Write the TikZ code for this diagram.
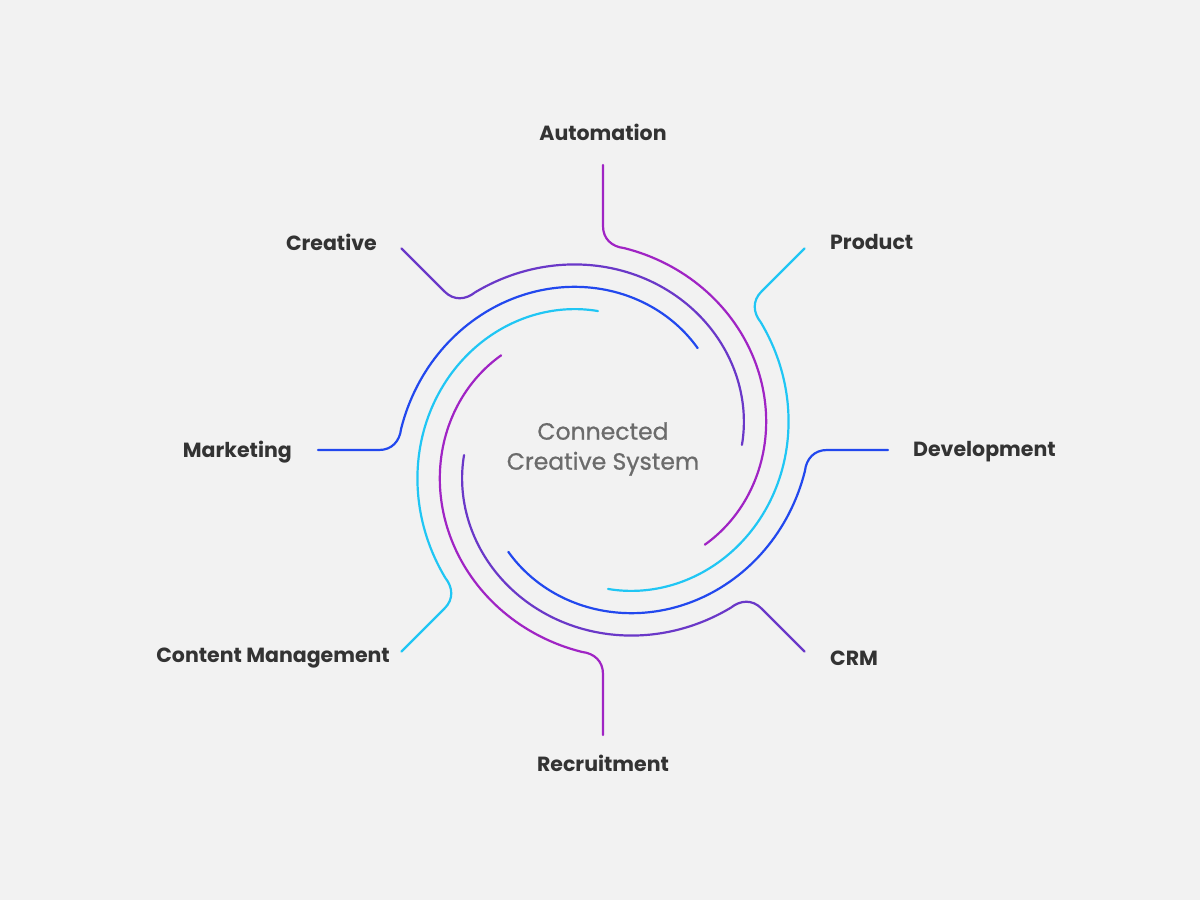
\documentclass[tikz,border=0pt]{standalone}
\usepackage{fontspec}
\setmainfont{Poppins}
\newfontfamily\ctrfont[FakeBold=0.8]{Poppins}
\definecolor{bg}{HTML}{F2F2F2}
\definecolor{cmag}{HTML}{A024C4}
\definecolor{cvio}{HTML}{6A38C8}
\definecolor{cblu}{HTML}{2248EE}
\definecolor{ccya}{HTML}{20C6F4}
\definecolor{ctxt}{HTML}{333333}
\definecolor{cgray}{HTML}{6B6B6B}
\begin{document}
\begin{tikzpicture}[x=1pt,y=1pt,
  lab/.style={font=\fontsize{20.5}{22}\selectfont\bfseries, text=ctxt, inner sep=0pt},
  arm/.style={line width=2.2pt, line cap=round}]
\fill[bg] (-603,-450) rectangle (597,450);
\useasboundingbox (-603,-450) rectangle (597,450);
\foreach \p/\c in {90/cmag,270/cmag,135/cvio,315/cvio,180/cblu,360/cblu,45/ccya,225/ccya}{
  \pgfmathsetmacro{\t}{\p-6}
  \pgfmathsetmacro{\tc}{\p-2.5}
  \coordinate (o\p) at (\p:285);
  \coordinate (i\p) at (\p:224);
  \coordinate (s\p) at (\t:203);
  \draw[arm,\c] (o\p) -- (i\p) .. controls (\p:211) and (\tc:203.5) .. (s\p)
    -- plot[domain=0:1,samples=80] ({\t-127*\x}:{203-64*\x});
}
\node[lab] (aut) at (0,318) {Automation};
\node[lab,anchor=west] (pro) at (227,208) {Product};
\node[lab,anchor=west] (dev) at (310,-2) {Development};
\node[lab,anchor=west] (crm) at (227,-208) {CRM};
\node[lab] (rec) at (0,-313) {Recruitment};
\node[lab,anchor=east] (con) at (-213,-208) {Content Management};
\node[lab,anchor=east] (mar) at (-311,-2) {Marketing};
\node[lab,anchor=east] (cre) at (-226,208) {Creative};
\node[align=center,text=cgray,font=\ctrfont\fontsize{23.5}{30}\selectfont] (ctr) at (0,1) {Connected\\Creative System};
\end{tikzpicture}
\end{document}
